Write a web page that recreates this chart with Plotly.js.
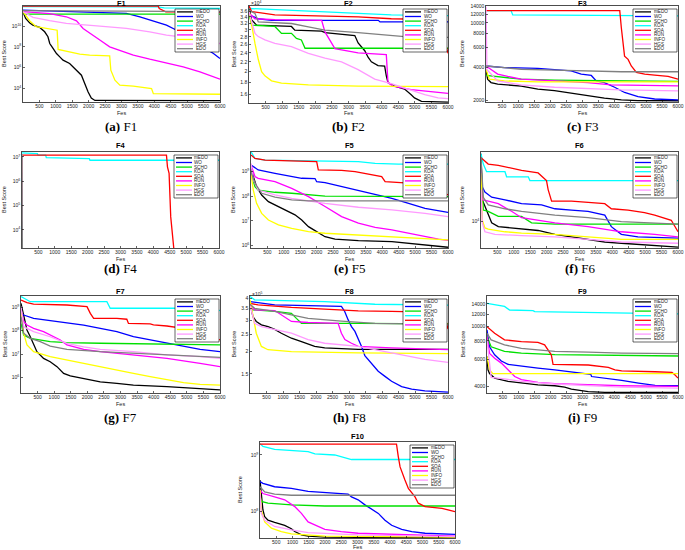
<!DOCTYPE html>
<html><head><meta charset="utf-8">
<script src="https://cdn.plot.ly/plotly-3.0.1.min.js"></script>
<style>html,body{margin:0;padding:0;background:#fff}#chart{width:685px;height:550px}</style>
</head><body><div id="chart"></div>
<script>
const algos = ['mEDO','WO','SCHO','KOA','SOA','RUN','INFO','HGS','EDO'];
const colors = ['#000000','#0000ff','#00e000','#00ffff','#ff0000','#ff00ff','#ffff00','#ff99ff','#808080'];
const fesTicks = [500,1000,1500,2000,2500,3000,3500,4000,4500,5000,5500,6000];
const captions = ['(a)','(b)','(c)','(d)','(e)','(f)','(g)','(h)','(i)',''];

// [Fes, log10(best score)]
const F1_log10 = {
 mEDO:[[0,11.39],[80,10.74],[200,10.32],[300,10.1],[510,9.87],[660,9.45],[760,8.97],[815,8.32],[915,7.84],[1020,7.35],[1120,7.03],[1220,6.71],[1420,6.39],[1630,5.74],[1780,5.26],[1880,4.45],[1980,3.65],[2080,3.05],[2190,2.82],[6000,2.8]],
 WO:[[0,11.55],[1000,11.45],[2640,11.35],[3150,11.23],[3560,10.9],[3970,10.52],[4370,10.1],[4680,9.6],[4980,8.97],[5390,8.16],[5800,7.35],[6000,6.87]],
 SCHO:[[0,11.4],[50,11.16],[6000,11.16]],
 KOA:[[0,11.88],[4100,11.86],[4300,11.75],[6000,11.72]],
 SOA:[[0,11.92],[4120,11.92],[4150,11.7],[4250,11.55],[4350,11.38],[6000,11.36]],
 RUN:[[0,11.4],[810,11.2],[1320,10.9],[1630,10.5],[1830,9.77],[2030,9.3],[2340,8.65],[2640,8.0],[2950,7.68],[3360,7.2],[3860,6.8],[4370,6.45],[4880,6.06],[5390,5.58],[6000,4.87]],
 INFO:[[0,11.4],[200,10.52],[400,9.94],[810,9.68],[1040,9.6],[1070,7.74],[1420,7.5],[1730,7.3],[2030,7.2],[2640,7.13],[2675,5.74],[2800,4.77],[2950,4.29],[3360,4.2],[3915,3.97],[3970,3.48],[6000,3.42]],
 HGS:[[0,11.4],[305,10.84],[810,10.52],[1320,10.26],[2340,10.0],[3150,9.77],[3860,9.45],[4370,9.13],[4980,8.9],[5590,8.58],[6000,8.32]],
 EDO:[[0,11.5],[6000,11.4]]
};
// [Fes, best score x1e4]
const F2_x1e4 = {
 mEDO:[[0,3.74],[80,3.3],[230,3.14],[1280,3.1],[1380,2.99],[2190,2.96],[2290,2.92],[2590,2.9],[3190,2.84],[3290,2.64],[3490,2.45],[3590,2.3],[3690,2.2],[3890,2.12],[4090,2.11],[4140,1.92],[4190,1.8],[4390,1.74],[4690,1.69],[4890,1.6],[4990,1.55],[5200,1.5],[6000,1.49]],
 WO:[[0,3.47],[280,3.34],[680,3.29],[3900,3.29],[3950,3.24],[6000,3.24]],
 SCHO:[[0,3.52],[80,3.14],[780,3.1],[980,2.9],[1280,2.9],[1430,2.76],[1580,2.72],[1690,2.51],[6000,2.51]],
 KOA:[[0,3.69],[2290,3.57],[4290,3.47],[6000,3.44]],
 SOA:[[0,3.78],[80,3.58],[780,3.47],[1790,3.44],[3290,3.4],[4290,3.34],[5700,3.31],[5800,3.04],[5900,2.72],[6000,2.39]],
 RUN:[[0,3.52],[180,3.34],[780,3.31],[2190,3.29],[2290,2.94],[2390,2.79],[2590,2.5],[3290,2.4],[4140,2.36],[4190,1.8],[4340,1.74],[4890,1.68],[6000,1.62]],
 INFO:[[0,3.63],[80,3.09],[180,2.63],[280,2.25],[380,2.0],[480,1.92],[680,1.83],[980,1.79],[1790,1.76],[3290,1.74],[6000,1.73]],
 HGS:[[0,3.58],[180,2.9],[280,2.81],[480,2.72],[780,2.63],[1280,2.55],[1790,2.39],[2290,2.28],[2790,2.2],[3290,2.04],[3790,1.86],[4290,1.78],[4790,1.69],[5300,1.6],[5700,1.55],[6000,1.54]],
 EDO:[[0,3.63],[180,3.52],[280,3.24],[1280,3.19],[1790,3.09],[2290,2.99],[3290,2.92],[4290,2.84],[4690,2.81],[6000,2.79]]
};
// [Fes, best score]
const F3_score = {
 mEDO:[[0,3800],[50,3120],[157,2910],[365,2820],[1100,2700],[1620,2540],[2140,2460],[2660,2330],[3180,2216],[3700,2110],[4230,2030],[4750,2000],[6000,1995]],
 WO:[[0,4100],[574,3965],[1620,3900],[2140,3833],[2660,3710],[2975,3470],[3290,3370],[3445,3010],[3700,2910],[4020,2640],[4330,2370],[4750,2170],[5270,2070],[6000,2030]],
 SCHO:[[0,3370],[365,3290],[1100,3120],[2140,3060],[6000,2980]],
 KOA:[[0,12910],[783,12910],[835,11816],[6000,11560]],
 SOA:[[0,12910],[4180,12910],[4230,9000],[4280,6500],[4330,5030],[4440,4700],[4540,4100],[4700,3590],[4960,3470],[5270,3400],[5690,3300],[6000,3120]],
 RUN:[[0,4100],[365,3470],[680,3300],[1100,3120],[2140,3010],[3180,2910],[3910,2770],[6000,2720]],
 INFO:[[0,3833],[100,3120],[574,3010],[1620,2950],[6000,2950]],
 HGS:[[0,14000],[30,3800],[365,3010],[1100,2770],[2140,2640],[3180,2580],[4230,2500],[6000,2450]],
 EDO:[[0,4100],[574,3965],[1100,3833],[2140,3760],[3180,3710],[4230,3640],[6000,3640]]
};
const F4_log10 = {
 mEDO:[[0,7.1],[15,2]],
 WO:[[0,7.1],[15,2]],
 SCHO:[[0,7.1],[15,2]],
 KOA:[[0,7.16],[470,7.13],[490,7.07],[720,7.07],[740,6.97],[2050,6.93],[2070,6.86],[6000,6.86]],
 SOA:[[0,7.07],[4400,7.07],[4430,6.59],[4480,6.32],[4530,4.53],[4580,3.99],[4640,3.0],[4660,2]],
 RUN:[[0,7.1],[15,2]],
 INFO:[[0,7.1],[15,2]],
 HGS:[[0,7.1],[15,2]],
 EDO:[[0,7.1],[15,2]]
};
const F5_log10 = {
 mEDO:[[0,9.2],[70,8.8],[170,8.39],[325,8.05],[530,7.78],[730,7.64],[935,7.5],[1140,7.37],[1340,7.24],[1545,7.03],[1750,6.76],[1950,6.6],[2255,6.35],[2560,6.25],[3270,6.19],[4290,6.15],[4900,6.06],[5510,5.97],[6000,5.92]],
 WO:[[0,9.27],[120,9.14],[220,9.07],[730,8.93],[1240,8.8],[1545,8.73],[1950,8.72],[2000,8.59],[2255,8.55],[2760,8.39],[3270,8.25],[3780,8.09],[4290,7.91],[4800,7.71],[5300,7.5],[6000,7.34]],
 SCHO:[[0,8.93],[120,8.39],[220,8.25],[730,8.16],[1240,8.12],[2255,8.0],[6000,7.98]],
 KOA:[[0,9.81],[120,9.54],[430,9.47],[1240,9.45],[2255,9.44],[3270,9.41],[3780,9.34],[4490,9.31],[6000,9.31]],
 SOA:[[0,9.68],[120,9.54],[430,9.47],[1240,9.45],[2000,9.41],[2050,9.07],[2760,9.05],[3170,9.0],[3475,8.93],[3980,8.8],[4085,8.59],[4800,8.53],[5300,8.53],[5810,8.39],[5910,8.12],[6000,8.05]],
 RUN:[[0,9.27],[120,8.8],[220,8.73],[730,8.59],[1240,8.32],[1750,7.98],[2255,7.58],[2760,7.17],[3270,6.9],[3780,6.73],[4290,6.63],[4800,6.49],[5300,6.35],[5710,6.25],[6000,6.2]],
 INFO:[[0,8.93],[70,8.25],[170,7.71],[325,7.3],[530,7.03],[835,6.83],[1240,6.69],[1750,6.56],[2255,6.49],[3270,6.42],[4290,6.35],[5300,6.26],[6000,6.22]],
 HGS:[[0,9.34],[70,8.66],[220,8.25],[730,8.05],[1240,7.91],[2255,7.71],[3270,7.55],[4290,7.44],[5300,7.3],[6000,7.17]],
 EDO:[[0,9.0],[120,8.53],[325,8.12],[730,7.96],[1240,7.85],[1750,7.81],[6000,7.81]]
};
const F6_log10 = {
 mEDO:[[0,4.53],[40,4.17],[120,4.12],[220,4.05],[325,3.99],[527,3.96],[1235,3.94],[1740,3.93],[2250,3.9],[2755,3.88],[3260,3.86],[3770,3.84],[4275,3.83],[5290,3.81],[6000,3.8]],
 WO:[[0,4.43],[40,4.27],[120,4.23],[325,4.19],[730,4.17],[1235,4.14],[1845,4.13],[2250,4.1],[2755,4.09],[3260,4.08],[3770,4.05],[3870,4.0],[3970,3.96],[4070,3.94],[4275,3.9],[4780,3.88],[6000,3.87]],
 SCHO:[[0,4.48],[70,4.09],[220,4.08],[527,4.04],[1235,4.04],[1540,3.99],[2250,3.98],[6000,3.98]],
 KOA:[[0,4.53],[70,4.45],[170,4.39],[730,4.39],[780,4.35],[1440,4.35],[1490,4.32],[6000,4.32]],
 SOA:[[0,4.5],[220,4.45],[527,4.44],[1235,4.4],[1740,4.38],[1995,4.32],[2045,4.25],[2150,4.16],[2755,4.16],[3770,4.14],[3970,4.1],[4480,4.09],[4980,4.07],[5290,4.05],[5795,4.01],[6000,3.92]],
 RUN:[[0,4.45],[40,4.17],[220,4.16],[527,4.14],[930,4.08],[1235,4.03],[2250,3.99],[3260,3.96],[4275,3.92],[5290,3.9],[6000,3.88]],
 INFO:[[0,4.38],[40,4.01],[120,3.95],[220,3.94],[730,3.92],[1235,3.91],[2250,3.9],[3260,3.88],[4275,3.86],[6000,3.86]],
 HGS:[[0,4.25],[40,3.99],[120,3.92],[425,3.9],[1235,3.89],[2250,3.88],[3260,3.86],[4275,3.84],[6000,3.83]],
 EDO:[[0,4.5],[70,4.19],[220,4.13],[730,4.1],[1235,4.08],[2250,4.05],[3260,4.03],[4275,4.0],[6000,3.98]]
};
const F7_log10 = {
 mEDO:[[0,9.17],[80,8.6],[180,8.03],[280,7.74],[380,7.39],[480,7.1],[680,6.81],[880,6.67],[1085,6.46],[1285,6.17],[1485,6.06],[1890,5.96],[2390,5.81],[2890,5.74],[3390,5.67],[4400,5.6],[5400,5.53],[5700,5.49],[6000,5.46]],
 WO:[[0,8.74],[80,8.67],[380,8.53],[880,8.43],[1385,8.34],[1890,8.24],[2390,8.1],[2890,7.96],[3390,7.74],[3895,7.6],[4400,7.46],[4900,7.31],[5400,7.2],[6000,7.1]],
 SCHO:[[0,8.31],[80,7.81],[280,7.67],[580,7.6],[880,7.53],[1385,7.49],[2390,7.46],[6000,7.39]],
 KOA:[[0,9.46],[180,9.31],[280,9.24],[2590,9.24],[2690,8.96],[5800,8.96],[6000,8.86]],
 SOA:[[0,9.31],[180,9.2],[380,9.14],[1385,9.1],[1990,9.03],[2090,8.74],[2190,8.53],[2890,8.53],[3190,8.49],[3240,8.31],[3895,8.29],[3995,8.25],[4400,8.2],[4900,8.1],[5400,7.96],[5800,7.74],[6000,7.6]],
 RUN:[[0,8.89],[80,8.39],[180,8.24],[380,8.1],[680,7.96],[880,7.81],[1185,7.6],[1385,7.39],[1890,7.2],[2390,7.1],[3390,6.96],[4400,6.81],[5400,6.6],[6000,6.46]],
 INFO:[[0,8.89],[80,7.89],[180,7.39],[380,7.1],[880,6.89],[1385,6.74],[1890,6.6],[2390,6.46],[2890,6.31],[3390,6.17],[3895,6.03],[4400,5.89],[4900,5.77],[5400,5.7],[6000,5.67]],
 HGS:[[0,9.03],[80,8.17],[380,7.96],[880,7.74],[1385,7.46],[1890,7.31],[2390,7.2],[3390,7.1],[4400,6.96],[5400,6.89],[6000,6.81]],
 EDO:[[0,8.6],[80,7.89],[280,7.67],[580,7.53],[880,7.34],[1385,7.2],[2390,7.1],[3390,7.03],[4400,6.96],[5400,6.91],[6000,6.86]]
};
// [Fes, best score x1e5]
const F8_x1e5 = {
 mEDO:[[0,3.74],[90,3.15],[190,2.96],[345,2.83],[545,2.77],[750,2.67],[950,2.54],[1255,2.38],[1560,2.28],[1960,2.14],[2265,2.1],[3280,2.06],[6000,2.06]],
 WO:[[0,3.83],[750,3.67],[2770,3.6],[2870,3.37],[2975,3.02],[3075,2.77],[3180,2.6],[3280,2.38],[3380,2.14],[3480,1.9],[3685,1.72],[3885,1.55],[4090,1.45],[4290,1.36],[4595,1.27],[4900,1.23],[5300,1.2],[6000,1.18]],
 SCHO:[[0,3.6],[90,3.44],[750,3.37],[1255,3.29],[1405,3.08],[1560,2.89],[3280,2.89],[6000,2.87]],
 KOA:[[0,4.09],[140,3.92],[2265,3.83],[3785,3.7],[6000,3.66]],
 SOA:[[0,3.74],[245,3.67],[1255,3.55],[2265,3.46],[3280,3.4],[4290,3.37],[5710,3.33],[5910,3.15],[6000,2.68]],
 RUN:[[0,3.6],[140,3.44],[750,3.41],[1050,3.15],[1255,2.96],[1760,2.92],[2670,2.89],[2770,2.54],[2875,2.34],[3075,2.23],[3280,2.14],[4290,2.1],[6000,2.05]],
 INFO:[[0,3.92],[90,3.15],[190,2.54],[345,2.14],[545,2.05],[1255,2.0],[2265,1.98],[3280,1.97],[6000,1.95]],
 HGS:[[0,3.67],[140,2.89],[345,2.77],[750,2.67],[1255,2.54],[1760,2.34],[2265,2.23],[3280,2.14],[3785,2.05],[4290,1.97],[4800,1.88],[5300,1.81],[6000,1.74]],
 EDO:[[0,3.7],[140,3.51],[750,3.37],[1255,3.22],[1760,3.08],[2770,2.97],[3785,2.89],[4800,2.87],[6000,2.83]]
};
const F9_score = {
 mEDO:[[0,6300],[30,5150],[80,4860],[240,4540],[660,4320],[1080,4210],[1600,4100],[2130,4040],[2440,3960],[2650,3840],[3180,3700],[3700,3660],[6000,3660]],
 WO:[[0,9440],[80,7310],[240,6470],[450,5880],[660,5600],[1080,5440],[1600,5290],[2130,5150],[2650,5000],[3260,4810],[3285,4650],[3700,4540],[4230,4380],[4760,4210],[5280,4060],[6000,4040]],
 SCHO:[[0,8530],[130,7310],[550,6810],[1080,6640],[2130,6490],[6000,6350]],
 KOA:[[0,14140],[550,13480],[710,12770],[1445,12650],[1500,12460],[6000,12050]],
 SOA:[[0,9920],[240,8970],[550,8110],[1080,7910],[1600,7820],[1810,7520],[2020,6470],[2075,5600],[3180,5540],[3810,5350],[4020,5150],[4230,5060],[5280,5000],[5810,4950],[5900,4780],[6000,4540]],
 RUN:[[0,8530],[80,6610],[240,6140],[450,5700],[660,5150],[870,4650],[1080,4430],[1600,4250],[2130,4170],[3180,4100],[4230,4040],[6000,4000]],
 INFO:[[0,6300],[80,5150],[180,4860],[6000,4860]],
 HGS:[[0,8110],[80,5420],[130,4590],[550,4480],[1080,4320],[2130,4150],[3180,4060],[4230,3960],[6000,3900]],
 EDO:[[0,8970],[130,8110],[550,7520],[1080,7130],[1600,6970],[2130,6810],[3180,6740],[4230,6640],[6000,6580]]
};
const F10_log10 = {
 mEDO:[[0,8.56],[40,8.26],[90,8.03],[145,7.91],[245,7.85],[450,7.81],[760,7.76],[965,7.7],[1070,7.65],[1275,7.59],[1480,7.57],[1995,7.55],[6000,7.54]],
 WO:[[0,8.53],[90,8.5],[450,8.44],[965,8.41],[1480,8.36],[1995,8.34],[2710,8.31],[2815,8.26],[3020,8.21],[3230,8.12],[3435,8.04],[3640,7.97],[3845,7.85],[4050,7.76],[4360,7.69],[4670,7.65],[5080,7.62],[6000,7.6]],
 SCHO:[[0,8.26],[40,8.18],[245,8.15],[965,8.12],[1995,8.1],[6000,8.1]],
 KOA:[[0,9.2],[90,9.15],[450,9.1],[965,9.08],[1480,9.06],[1690,9.02],[2300,9.0],[2815,8.92],[6000,8.92]],
 SOA:[[0,9.19],[4200,9.19],[4255,8.97],[4310,8.79],[4460,8.56],[4565,8.41],[4770,8.26],[4870,8.15],[5080,8.09],[5600,8.06],[6000,8.0]],
 RUN:[[0,8.38],[90,8.32],[450,8.26],[760,8.21],[1070,8.09],[1275,7.97],[1480,7.82],[1790,7.74],[1995,7.69],[2500,7.65],[3020,7.62],[6000,7.57]],
 INFO:[[0,8.38],[40,8.03],[145,7.82],[350,7.71],[655,7.65],[965,7.61],[1995,7.57],[6000,7.55]],
 HGS:[[0,8.32],[40,7.97],[145,7.85],[450,7.74],[965,7.68],[1480,7.63],[3020,7.59],[6000,7.56]],
 EDO:[[0,8.44],[145,8.35],[450,8.31],[965,8.29],[6000,8.29]]
};

// Tick definitions
const F1_ticks = [4,6,8,10];
const F2_ticks = [1.6,1.8,2,2.2,2.4,2.6,2.8,3,3.2,3.4,3.6];
const F3_ticks = [2000,4000,6000,8000,10000,12000,14000];
const F4_ticks = [4,5,6,7];
const F5_ticks = [6,7,8,9];
const F6_ticks = [4];
const F7_ticks = [6,7,8,9];
const F8_ticks = [1.5,2,2.5,3,3.5,4];
const F9_ticks = [4000,6000,8000,10000,12000,14000];
const F10_ticks = [8,9];

// layout (pixel boxes)
const W = 685, H = 550;
const panels = [
 {name:'F1', data:F1_log10, exp:true, ticks:F1_ticks, px:[23,220], py:[6,102], yr:[2.67,11.94], ylab:4, ty:3, fy:113, cy:126},
 {name:'F2', data:F2_x1e4, exp:false, ticks:F2_ticks, px:[249,448], py:[6,103], yrv:[1.476,3.78], ylab:233, ty:3, fy:113, cy:126, mult:'4'},
 {name:'F3', data:F3_score, exp:false, ticks:F3_ticks, px:[486,678], py:[6,102], yrv:[1945,14200], ylab:462, ty:3, fy:113, cy:126},
 {name:'F4', data:F4_log10, exp:true, ticks:F4_ticks, px:[22,219], py:[152,248], yr:[3.25,7.2], ylab:4, ty:145, fy:258.5, cy:268},
 {name:'F5', data:F5_log10, exp:true, ticks:F5_ticks, px:[251,448], py:[152,248], yr:[5.89,9.8], ylab:233, ty:145, fy:258.5, cy:268},
 {name:'F6', data:F6_log10, exp:true, ticks:F6_ticks, px:[481,678], py:[152,248], yr:[3.793,4.544], ylab:462, ty:145, fy:258.5, cy:268},
 {name:'F7', data:F7_log10, exp:true, ticks:F7_ticks, px:[21,220], py:[296,393], yr:[5.33,9.485], ylab:4, ty:291.5, fy:403.5, cy:417.5},
 {name:'F8', data:F8_x1e5, exp:false, ticks:F8_ticks, px:[250,448], py:[296,393], yrv:[1.168,4.12], ylab:233, ty:291.5, fy:403.5, cy:417.5, mult:'5'},
 {name:'F9', data:F9_score, exp:false, ticks:F9_ticks, px:[487,678], py:[296,393], yrv:[3620,15800], ylab:462, ty:291.5, fy:403.5, cy:417.5},
 {name:'F10', data:F10_log10, exp:true, ticks:F10_ticks, px:[260,455], py:[442,538], yr:[7.536,9.229], ylab:240, ty:436, fy:546.5, cy:null}
];

const fx = v => v / W;
const fy = v => 1 - v / H;
const FONT = 'Liberation Sans, Arial, sans-serif';

const traces = [];
const layout = {
  width: W, height: H, margin:{l:0,r:0,t:0,b:0},
  paper_bgcolor:'#fff', plot_bgcolor:'#fff', showlegend:false,
  font:{family:FONT, color:'#222'},
  shapes:[], annotations:[]
};

panels.forEach((p, i) => {
  const n = i === 0 ? '' : String(i + 1);
  const xa = 'x' + n, ya = 'y' + n;
  algos.forEach((a, j) => {
    const pts = p.data[a];
    traces.push({
      type:'scatter', mode:'lines', xaxis:xa, yaxis:ya,
      x: pts.map(q => q[0]),
      y: pts.map(q => p.exp ? Math.pow(10, q[1]) : q[1]),
      line:{color:colors[j], width:1.3}, hoverinfo:'skip'
    });
  });
  const axCommon = {
    showline:true, mirror:true, linecolor:'#000', linewidth:0.7,
    ticks:'inside', ticklen:2, tickwidth:0.6, tickcolor:'#000',
    showgrid:false, zeroline:false, fixedrange:true,
    tickfont:{size:5, family:FONT, color:'#222'}
  };
  layout['xaxis' + n] = Object.assign({}, axCommon, {
    domain:[fx(p.px[0]), fx(p.px[1])], anchor:ya, range:[0,6000],
    tickmode:'array', tickvals:fesTicks, ticktext:fesTicks.map(String), ticklabelstandoff:-1
  });
  const yr = p.exp ? p.yr : p.yrv.map(v => Math.log10(v));
  layout['yaxis' + n] = Object.assign({}, axCommon, {
    domain:[fy(p.py[1]), fy(p.py[0])], anchor:xa, type:'log', range:yr,
    tickmode:'array',
    tickvals: p.exp ? p.ticks.map(k => Math.pow(10,k)) : p.ticks,
    ticktext: p.exp ? p.ticks.map(k => '10<sup>' + k + '</sup>') : p.ticks.map(String)
  });
  const cx = (p.px[0] + p.px[1]) / 2;
  const cyMid = (p.py[0] + p.py[1]) / 2;
  layout.annotations.push({xref:'paper', yref:'paper', x:fx(cx), y:fy(p.ty), text:'<b>' + p.name + '</b>',
    showarrow:false, xanchor:'center', yanchor:'middle', font:{size:7.5, family:FONT, color:'#000'}});
  layout.annotations.push({xref:'paper', yref:'paper', x:fx(cx), y:fy(p.fy), text:'Fes',
    showarrow:false, xanchor:'center', yanchor:'middle', borderpad:0, font:{size:5.5, family:FONT, color:'#222'}});
  layout.annotations.push({xref:'paper', yref:'paper', x:fx(p.ylab), y:fy(cyMid), text:'Best Score', textangle:-90,
    showarrow:false, xanchor:'center', yanchor:'middle', font:{size:5.5, family:FONT, color:'#222'}});
  if (p.cy !== null) {
    layout.annotations.push({xref:'paper', yref:'paper', x:fx(cx), y:fy(p.cy),
      text:'<b>' + captions[i] + '</b> ' + p.name, showarrow:false, xanchor:'center', yanchor:'middle',
      font:{size:13, family:'Liberation Serif, DejaVu Serif, serif', color:'#000'}});
  }
  if (p.mult) {
    layout.annotations.push({xref:'paper', yref:'paper', x:fx(p.px[0]), y:fy(p.py[0] - 2.5),
      text:'\u00d710<sup>' + p.mult + '</sup>', showarrow:false, xanchor:'left', yanchor:'middle',
      font:{size:5, family:FONT, color:'#222'}});
  }
  const bw = 44, bh = 43;
  const br = p.px[1] - 1, bl = br - bw, bt = p.py[0] + 3, bb = bt + bh;
  layout.shapes.push({type:'rect', xref:'paper', yref:'paper', x0:fx(bl), x1:fx(br), y0:fy(bb), y1:fy(bt),
    line:{color:'#000', width:0.6}, fillcolor:'#fff', layer:'above'});
  algos.forEach((a, j) => {
    const yy = bt + 2.9 + j * 4.6;
    layout.shapes.push({type:'line', xref:'paper', yref:'paper', x0:fx(bl + 2), x1:fx(bl + 18), y0:fy(yy), y1:fy(yy),
      line:{color:colors[j], width:1.3}, layer:'above'});
    layout.annotations.push({xref:'paper', yref:'paper', x:fx(bl + 19.5), y:fy(yy), text:a,
      showarrow:false, xanchor:'left', yanchor:'middle', borderpad:0,
      font:{size:4.6, family:FONT, color:'#222'}});
  });
});

Plotly.newPlot('chart', traces, layout, {staticPlot:true, displayModeBar:false});
</script>
</body></html>
